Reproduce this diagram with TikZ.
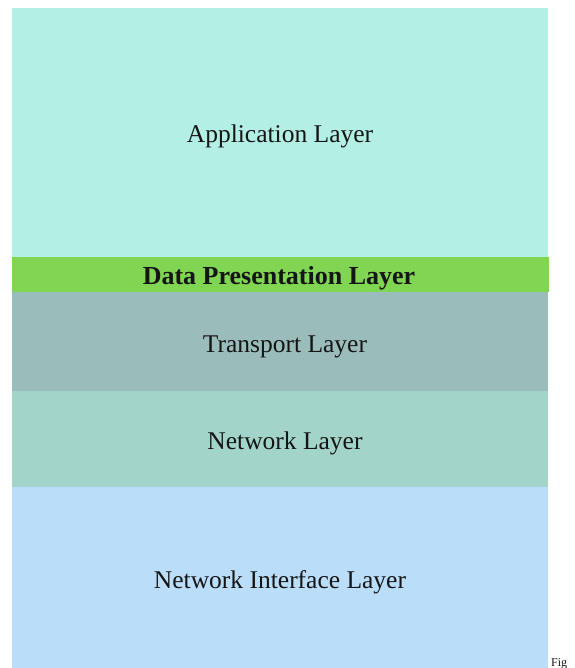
\documentclass[tikz,border=0pt]{standalone}
\usepackage{fontspec}
\setmainfont{Liberation Serif}
\definecolor{appc}{HTML}{B3EFE4}
\definecolor{datac}{HTML}{80D552}
\definecolor{tranc}{HTML}{9ABCBA}
\definecolor{netc}{HTML}{A3D4CA}
\definecolor{nifc}{HTML}{BADDFA}
\definecolor{txtc}{HTML}{151515}
\begin{document}
\begin{tikzpicture}[x=1pt,y=-1pt,
  layerlabel/.style={anchor=base,text=txtc,font=\fontsize{25.5}{29}\selectfont,inner sep=0pt}]
\useasboundingbox (0,0) rectangle (574,668);
\clip (0,0) rectangle (574,668);
\fill[appc] (12,8) rectangle (548,257);
\fill[datac] (12,257) rectangle (549,292);
\fill[tranc] (12,292) rectangle (548,391);
\fill[netc] (12,391) rectangle (548,487);
\fill[nifc] (12,487) rectangle (548,668);
\node[layerlabel] (app) at (280,143) {Application Layer};
\node[layerlabel,font=\fontsize{26}{29}\selectfont\bfseries] (data) at (279,284) {Data Presentation Layer};
\node[layerlabel] (tran) at (285,352) {Transport Layer};
\node[layerlabel] (net) at (285,449) {Network Layer};
\node[layerlabel] (nif) at (280,588) {Network Interface Layer};
\node[anchor=base west,inner sep=0pt,text=txtc,font=\fontsize{12}{14}\selectfont] (fig) at (551,666) {Fig};
\end{tikzpicture}
\end{document}
